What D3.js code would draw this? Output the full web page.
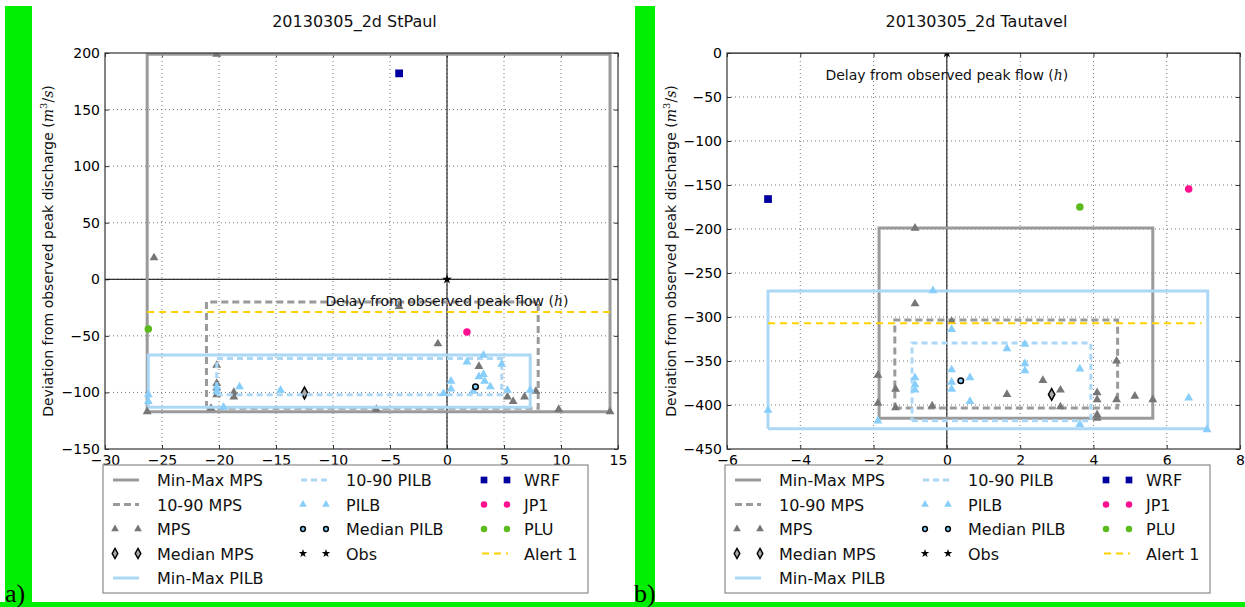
<!DOCTYPE html>
<html>
<head>
<meta charset="utf-8">
<script src="https://cdn.jsdelivr.net/npm/d3@7"></script>
<style>
  body { margin: 0; background: #fff; }
  svg { display: block; font-family: "DejaVu Sans", sans-serif; }
</style>
</head>
<body>
<div id="chart"></div>
<script>
// ---- panel a) 20130305_2d StPaul ----
const stPaulXTicks = [-30, -25, -20, -15, -10, -5, 0, 5, 10, 15];
const stPaulYTicks = [-150, -100, -50, 0, 50, 100, 150, 200];
// boxes are [xmin, xmax, ymin, ymax]
const stPaulMinMaxMPS = [-26.3, 14.3, -117, 199];
const stPaulP1090MPS = [-21.1, 8.0, -114, -20];
const stPaulMinMaxPILB = [-26.2, 7.3, -113, -67];
const stPaulP1090PILB = [-20.2, 4.8, -102, -70];
const stPaulMPS = [
  [-20.2, 199], [-25.7, 19], [-26.3, -117], [-20.2, -76], [-20.2, -92], [-20.2, -96],
  [-20.2, -102], [-20.7, -114], [-18.7, -100], [-18.7, -104], [-6.2, -115], [-4.2, -24],
  [-0.8, -57], [2.8, -77], [5.3, -104], [5.8, -108], [6.8, -104], [7.8, -99], [9.8, -115], [14.3, -117]
];
const stPaulPILB = [
  [-26.2, -102], [-26.2, -108], [-20.2, -95], [-20.2, -99], [-19.6, -113], [-18.2, -95],
  [-14.6, -98], [-0.3, -101], [0.35, -90], [0.35, -97], [1.75, -73], [2.3, -99], [2.8, -86],
  [3.2, -67], [3.2, -84], [3.3, -90], [3.8, -95], [4.8, -75], [5.3, -98], [7.3, -98]
];
const stPaulMedianMPS = [[-12.5, -100.5]];
const stPaulMedianPILB = [[2.5, -95]];
const stPaulObs = [[0, 0]];
const stPaulWRF = [[-4.2, 182]];
const stPaulJP1 = [[1.75, -46.5]];
const stPaulPLU = [[-26.2, -44]];
const stPaulAlert = [-26.3, 14.3, -29]; // x from, x to, level

// ---- panel b) 20130305_2d Tautavel ----
const tautavelXTicks = [-6, -4, -2, 0, 2, 4, 6, 8];
const tautavelYTicks = [-450, -400, -350, -300, -250, -200, -150, -100, -50, 0];
const tautavelMinMaxMPS = [-1.85, 5.62, -415, -199];
const tautavelP1090MPS = [-1.42, 4.66, -403.5, -303.5];
const tautavelMinMaxPILB = [-4.88, 7.12, -427, -270.5];
const tautavelP1090PILB = [-0.95, 3.93, -418, -329.5];
const tautavelMPS = [
  [-0.87, -199], [-0.87, -285], [-1.88, -366], [-1.88, -398], [-1.4, -382], [-1.4, -403],
  [-0.4, -401], [0.13, -305], [1.64, -388], [2.62, -372], [3.1, -383], [3.1, -402],
  [4.1, -386], [4.1, -394], [4.1, -411], [4.1, -415], [4.63, -350], [4.63, -394], [5.13, -390], [5.62, -394]
];
const tautavelPILB = [
  [-0.38, -270], [-4.88, -406], [-1.88, -418], [-0.87, -369], [-0.87, -377], [-0.87, -383],
  [0.13, -314], [0.13, -360], [0.13, -374], [0.13, -382], [0.63, -369], [0.63, -396],
  [1.64, -336], [2.13, -331], [2.13, -353], [2.13, -361], [3.63, -359], [3.63, -422], [6.6, -392], [7.1, -428]
];
const tautavelMedianMPS = [[2.86, -388]];
const tautavelMedianPILB = [[0.38, -372.5]];
const tautavelObs = [[0, 0]];
const tautavelWRF = [[-4.88, -166]];
const tautavelJP1 = [[6.6, -154.5]];
const tautavelPLU = [[3.63, -175]];
const tautavelAlert = [-4.88, 6.95, -307];

const legendLabels = [
  "Min-Max MPS", "10-90 MPS", "MPS", "Median MPS", "Min-Max PILB",
  "10-90 PILB", "PILB", "Median PILB", "Obs",
  "WRF", "JP1", "PLU", "Alert 1"
];

// matplotlib style thin diamond
const thinDiamond = {
  draw(ctx, size) {
    const h = Math.sqrt(size);
    ctx.moveTo(0, -h); ctx.lineTo(h * 0.55, 0); ctx.lineTo(0, h); ctx.lineTo(-h * 0.55, 0); ctx.closePath();
  }
};

const styles = {
  "Min-Max MPS":  { kind: "line", stroke: "#9a9a9a", width: 3 },
  "10-90 MPS":    { kind: "line", stroke: "#9a9a9a", width: 3, dash: "7,4" },
  "MPS":          { kind: "marker", type: d3.symbolTriangle, size: 34, fill: "#767676" },
  "Median MPS":   { kind: "marker", type: thinDiamond, size: 34, fill: "#aaa", stroke: "#000", sw: 1.5 },
  "Min-Max PILB": { kind: "line", stroke: "#acd8f6", width: 3 },
  "10-90 PILB":   { kind: "line", stroke: "#acd8f6", width: 3, dash: "6,4" },
  "PILB":         { kind: "marker", type: d3.symbolTriangle, size: 34, fill: "#87cefa" },
  "Median PILB":  { kind: "marker", type: d3.symbolCircle, size: 24, fill: "#87cefa", stroke: "#000", sw: 1.5 },
  "Obs":          { kind: "marker", type: d3.symbolStar, size: 30, fill: "#000" },
  "WRF":          { kind: "marker", type: d3.symbolSquare, size: 60, fill: "#0000a0" },
  "JP1":          { kind: "marker", type: d3.symbolCircle, size: 44, fill: "#ff1090" },
  "PLU":          { kind: "marker", type: d3.symbolCircle, size: 44, fill: "#5cbb1c" },
  "Alert 1":      { kind: "line", stroke: "#ffd200", width: 2, dash: "7,5" }
};

const W = 1245, H = 607;
const svg = d3.select("#chart").append("svg")
  .attr("width", W).attr("height", H);

svg.append("rect").attr("width", W).attr("height", H).attr("fill", "#fff");

// green frame bits of the figure
svg.append("rect").attr("x", 5).attr("y", 6).attr("width", 27).attr("height", H - 6).attr("fill", "#00ee00");
svg.append("rect").attr("x", 635).attr("y", 6).attr("width", 20).attr("height", H - 6).attr("fill", "#00ee00");
svg.append("rect").attr("x", 0).attr("y", 602).attr("width", W).attr("height", 5).attr("fill", "#00ee00");

const fmt = d => d < 0 ? "\u2212" + Math.abs(d) : String(d);

function drawPanel(p) {
  const x = d3.scaleLinear().domain([p.xTicks[0], p.xTicks[p.xTicks.length - 1]]).range([p.left, p.right]);
  const y = d3.scaleLinear().domain([p.yTicks[0], p.yTicks[p.yTicks.length - 1]]).range([p.bottom, p.top]);
  const g = svg.append("g");

  // title
  g.append("text")
    .attr("x", (p.left + p.right) / 2 - 7).attr("y", 27)
    .attr("text-anchor", "middle").attr("font-size", 16).attr("fill", "#111")
    .text(p.title);

  // grid
  g.append("g").selectAll("line").data(p.xTicks.slice(1, -1)).enter().append("line")
    .attr("x1", d => x(d)).attr("x2", d => x(d)).attr("y1", p.top).attr("y2", p.bottom)
    .attr("stroke", "#777").attr("stroke-width", 1).attr("stroke-dasharray", "1,3");
  g.append("g").selectAll("line").data(p.yTicks.slice(1, -1)).enter().append("line")
    .attr("y1", d => y(d)).attr("y2", d => y(d)).attr("x1", p.left).attr("x2", p.right)
    .attr("stroke", "#777").attr("stroke-width", 1).attr("stroke-dasharray", "1,3");

  // axes with inward ticks
  const axes = [
    [d3.axisBottom(x).tickFormat(fmt), `translate(0,${p.bottom})`, true],
    [d3.axisTop(x).tickFormat(""), `translate(0,${p.top})`, false],
    [d3.axisLeft(y).tickFormat(fmt), `translate(${p.left},0)`, true],
    [d3.axisRight(y).tickFormat(""), `translate(${p.right},0)`, false]
  ];
  axes.forEach(([ax, tr]) => {
    const a = g.append("g").attr("transform", tr)
      .call(ax.tickValues(ax.scale() === x ? p.xTicks : p.yTicks).tickSize(-4).tickPadding(ax.scale() === x ? 6 : 5));
    a.select(".domain").remove();
    a.selectAll("line").attr("stroke", "#000").attr("stroke-width", 0.8);
    a.selectAll("text").attr("font-size", 14).attr("font-family", "DejaVu Sans").attr("fill", "#000");
  });

  // clipping for data marks
  const clipId = "clip-" + p.id;
  svg.append("clipPath").attr("id", clipId).append("rect")
    .attr("x", p.left).attr("y", p.top).attr("width", p.right - p.left).attr("height", p.bottom - p.top);
  const plot = g.append("g").attr("clip-path", `url(#${clipId})`);

  // zero lines
  plot.append("line").attr("x1", p.left).attr("x2", p.right).attr("y1", y(0)).attr("y2", y(0))
    .attr("stroke", "#000").attr("stroke-width", 1);
  plot.append("line").attr("x1", x(0)).attr("x2", x(0)).attr("y1", p.top).attr("y2", p.bottom)
    .attr("stroke", "#000").attr("stroke-width", 1);

  const boxLine = d3.line().x(d => x(d[0])).y(d => y(d[1]));
  const drawBox = (b, st) => {
    const corners = [[b[0], b[2]], [b[1], b[2]], [b[1], b[3]], [b[0], b[3]], [b[0], b[2]]];
    plot.append("path").attr("d", boxLine(corners))
      .attr("fill", "none").attr("stroke", st.stroke).attr("stroke-width", st.width)
      .attr("stroke-dasharray", st.dash || null);
  };
  const drawPoints = (pts, st) => {
    plot.append("g").selectAll("path").data(pts).enter().append("path")
      .attr("transform", d => `translate(${x(d[0])},${y(d[1])})`)
      .attr("d", d3.symbol().type(st.type).size(st.size))
      .attr("fill", st.fill).attr("stroke", st.stroke || "none").attr("stroke-width", st.sw || 0);
  };

  drawBox(p.minMaxMPS, styles["Min-Max MPS"]);
  drawBox(p.p1090MPS, styles["10-90 MPS"]);
  drawPoints(p.mps, styles["MPS"]);
  drawPoints(p.medianMPS, styles["Median MPS"]);
  drawBox(p.minMaxPILB, styles["Min-Max PILB"]);
  drawBox(p.p1090PILB, styles["10-90 PILB"]);
  drawPoints(p.pilb, styles["PILB"]);
  drawPoints(p.medianPILB, styles["Median PILB"]);
  drawPoints(p.obs, styles["Obs"]);
  drawPoints(p.wrf, styles["WRF"]);
  drawPoints(p.jp1, styles["JP1"]);
  drawPoints(p.plu, styles["PLU"]);
  const al = styles["Alert 1"];
  plot.append("line")
    .attr("x1", x(p.alert[0])).attr("x2", x(p.alert[1]))
    .attr("y1", y(p.alert[2])).attr("y2", y(p.alert[2]))
    .attr("stroke", al.stroke).attr("stroke-width", al.width).attr("stroke-dasharray", al.dash);

  // frame
  g.append("rect").attr("x", p.left).attr("y", p.top)
    .attr("width", p.right - p.left).attr("height", p.bottom - p.top)
    .attr("fill", "none").attr("stroke", "#333").attr("stroke-width", 1.2);

  // x label sits at the zero lines
  const xl = g.append("text")
    .attr("x", x(0)).attr("y", y(0) + 27)
    .attr("text-anchor", "middle").attr("font-size", 14).attr("fill", "#111");
  xl.append("tspan").text("Delay from observed peak flow (");
  xl.append("tspan").attr("font-family", "DejaVu Serif").attr("font-style", "italic").text("h");
  xl.append("tspan").text(")");

  // y label
  const yl = g.append("text")
    .attr("transform", `translate(${p.yLabelX},${(p.top + p.bottom) / 2}) rotate(-90)`)
    .attr("text-anchor", "middle").attr("font-size", 14).attr("fill", "#111");
  yl.append("tspan").text("Deviation from observed peak discharge (");
  yl.append("tspan").attr("font-family", "DejaVu Serif").attr("font-style", "italic").text("m");
  yl.append("tspan").attr("font-family", "DejaVu Serif").attr("font-size", 10).attr("dy", -6).text("3");
  yl.append("tspan").attr("font-family", "DejaVu Serif").attr("dy", 6).text("/");
  yl.append("tspan").attr("font-family", "DejaVu Serif").attr("font-style", "italic").text("s");
  yl.append("tspan").text(")");

  // legend
  const lg = g.append("g").attr("transform", `translate(${p.left - 2},465)`);
  lg.append("rect").attr("width", 485).attr("height", 128)
    .attr("fill", "#fff").attr("stroke", "#8a8a8a").attr("stroke-width", 1.2);
  const cols = [[0, 5, 10, 54], [5, 9, 198, 243], [9, 13, 379, 421]];
  cols.forEach(([from, to, hx, tx]) => {
    legendLabels.slice(from, to).forEach((lab, i) => {
      const cy = 15 + i * 24.5;
      const st = styles[lab];
      if (st.kind === "line") {
        lg.append("line").attr("x1", hx).attr("x2", hx + 26).attr("y1", cy).attr("y2", cy)
          .attr("stroke", st.stroke).attr("stroke-width", st.width).attr("stroke-dasharray", st.dash || null);
      } else {
        [hx + 2, hx + 25].forEach(mx => {
          lg.append("path").attr("transform", `translate(${mx},${cy})`)
            .attr("d", d3.symbol().type(st.type).size(st.size * 0.75))
            .attr("fill", st.fill).attr("stroke", st.stroke || "none").attr("stroke-width", st.sw || 0);
        });
      }
      lg.append("text").attr("x", tx).attr("y", cy + 6)
        .attr("font-size", 16).attr("fill", "#111").text(lab);
    });
  });
}

drawPanel({
  id: "a", title: "20130305_2d  StPaul",
  left: 105, right: 618, top: 53, bottom: 449, yLabelX: 53,
  xTicks: stPaulXTicks, yTicks: stPaulYTicks,
  minMaxMPS: stPaulMinMaxMPS, p1090MPS: stPaulP1090MPS,
  minMaxPILB: stPaulMinMaxPILB, p1090PILB: stPaulP1090PILB,
  mps: stPaulMPS, pilb: stPaulPILB, medianMPS: stPaulMedianMPS, medianPILB: stPaulMedianPILB,
  obs: stPaulObs, wrf: stPaulWRF, jp1: stPaulJP1, plu: stPaulPLU, alert: stPaulAlert
});

drawPanel({
  id: "b", title: "20130305_2d  Tautavel",
  left: 727, right: 1240, top: 53, bottom: 449, yLabelX: 676,
  xTicks: tautavelXTicks, yTicks: tautavelYTicks,
  minMaxMPS: tautavelMinMaxMPS, p1090MPS: tautavelP1090MPS,
  minMaxPILB: tautavelMinMaxPILB, p1090PILB: tautavelP1090PILB,
  mps: tautavelMPS, pilb: tautavelPILB, medianMPS: tautavelMedianMPS, medianPILB: tautavelMedianPILB,
  obs: tautavelObs, wrf: tautavelWRF, jp1: tautavelJP1, plu: tautavelPLU, alert: tautavelAlert
});

// panel letters
svg.append("text").attr("x", 5).attr("y", 602).attr("font-family", "Liberation Serif")
  .attr("font-size", 26).attr("fill", "#000").text("a)");
svg.append("text").attr("x", 634).attr("y", 602).attr("font-family", "Liberation Serif")
  .attr("font-size", 26).attr("fill", "#000").text("b)");
</script>
</body>
</html>
